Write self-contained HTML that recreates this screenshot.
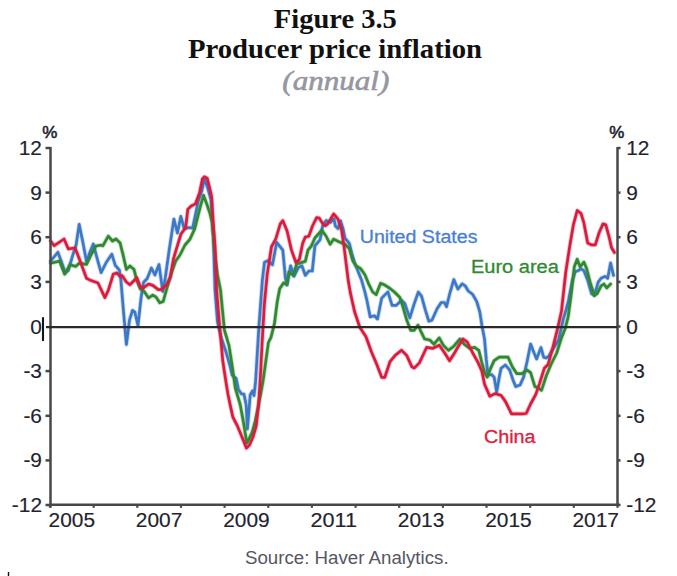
<!DOCTYPE html>
<html><head><meta charset="utf-8"><title>Figure 3.5 Producer price inflation</title>
<style>html,body{margin:0;padding:0;background:#fff;}body{width:677px;height:576px;overflow:hidden;}svg{display:block;}</style>
</head><body>
<svg width="677" height="576" viewBox="0 0 677 576">
<g font-family="'Liberation Serif', serif" font-weight="bold" fill="#111" text-anchor="middle">
<text x="335.3" y="27.9" font-size="28" textLength="123" lengthAdjust="spacingAndGlyphs">Figure 3.5</text>
<text x="335" y="57.9" font-size="28" textLength="294" lengthAdjust="spacingAndGlyphs">Producer price inflation</text>
<text x="335.8" y="90.2" font-size="26.5" font-style="italic" font-weight="normal" fill="#9597a0" stroke="#9597a0" stroke-width="0.6" textLength="107" lengthAdjust="spacingAndGlyphs">(annual)</text>
</g>
<g fill="none" stroke-linejoin="round" stroke-linecap="round">
<polyline stroke="#3c78c8" stroke-width="4.4" stroke-opacity="0.3" points="50.6,261.0 57.9,252.3 61.5,262.0 65.2,272.8 68.3,270.5 73.0,254.4 76.1,245.0 79.2,224.4 83.0,243.0 86.5,261.5 90.0,252.0 93.3,244.0 97.0,258.0 101.1,272.6 106.2,262.5 111.8,254.2 115.3,265.3 119.4,270.1 120.9,280.0 123.4,310.4 126.4,344.5 129.5,320.1 132.5,310.4 134.9,312.2 138.0,325.6 141.0,298.2 143.5,282.5 147.2,278.5 151.4,268.0 154.9,275.0 159.0,264.6 162.8,291.5 165.3,277.8 169.4,248.6 173.9,219.2 177.4,233.0 180.8,216.4 184.3,228.9 189.2,227.5 192.6,228.2 195.4,215.0 198.2,201.1 201.7,191.4 204.4,178.9 207.9,188.6 211.0,200.0 213.3,235.0 215.0,290.0 217.5,322.0 221.0,337.0 226.0,352.0 230.0,366.0 232.2,375.3 236.1,378.4 238.4,389.4 241.6,394.0 243.9,394.0 246.2,405.0 247.4,429.0 248.6,415.0 250.2,395.0 252.5,391.0 254.0,395.6 255.6,381.6 258.9,326.9 262.4,280.0 264.5,262.3 268.0,260.6 272.4,264.9 276.7,242.3 282.8,250.1 285.4,277.9 287.1,284.9 290.6,265.8 294.1,276.2 298.4,267.5 301.9,265.8 305.3,275.3 308.8,271.0 312.3,271.0 314.9,245.8 320.1,239.7 322.7,225.8 326.2,220.6 330.5,222.4 334.0,218.9 335.4,226.0 338.0,228.6 340.6,220.8 343.2,229.5 345.0,238.2 349.3,243.4 351.9,253.8 354.5,262.5 358.0,271.2 361.5,279.9 364.9,292.0 367.1,301.2 370.2,316.9 374.4,315.8 377.5,319.0 381.7,298.1 387.9,291.9 392.1,305.4 396.2,305.4 401.5,300.2 404.6,303.3 409.8,317.9 414.0,304.4 418.3,292.1 421.5,296.2 425.6,310.8 428.8,321.2 431.9,320.2 437.1,308.8 441.2,302.5 444.4,302.5 446.5,306.7 449.6,294.2 453.8,279.6 457.9,289.0 462.1,283.8 465.2,285.8 468.3,291.0 472.5,294.2 476.7,301.5 479.8,311.9 481.9,325.4 484.5,338.9 486.3,359.7 488.0,375.3 491.5,374.5 494.1,377.1 496.7,391.8 499.3,377.1 501.0,368.4 505.4,365.0 509.7,370.1 513.2,380.6 515.8,386.6 520.1,384.9 523.6,377.1 527.1,361.5 530.6,344.1 534.0,352.8 536.6,358.9 541.0,347.6 543.6,357.1 546.2,358.0 548.8,356.2 552.9,349.2 558.6,339.7 563.4,318.6 566.3,309.1 568.6,300.0 572.4,280.2 575.3,271.6 578.1,270.7 581.0,268.8 583.9,270.7 587.7,280.2 591.5,293.6 594.4,295.5 598.2,282.1 601.1,278.3 604.9,276.4 607.7,278.3 610.6,263.0 613.5,275.4"/>
<polyline stroke="#3c78c8" stroke-width="2.7" points="50.6,261.0 57.9,252.3 61.5,262.0 65.2,272.8 68.3,270.5 73.0,254.4 76.1,245.0 79.2,224.4 83.0,243.0 86.5,261.5 90.0,252.0 93.3,244.0 97.0,258.0 101.1,272.6 106.2,262.5 111.8,254.2 115.3,265.3 119.4,270.1 120.9,280.0 123.4,310.4 126.4,344.5 129.5,320.1 132.5,310.4 134.9,312.2 138.0,325.6 141.0,298.2 143.5,282.5 147.2,278.5 151.4,268.0 154.9,275.0 159.0,264.6 162.8,291.5 165.3,277.8 169.4,248.6 173.9,219.2 177.4,233.0 180.8,216.4 184.3,228.9 189.2,227.5 192.6,228.2 195.4,215.0 198.2,201.1 201.7,191.4 204.4,178.9 207.9,188.6 211.0,200.0 213.3,235.0 215.0,290.0 217.5,322.0 221.0,337.0 226.0,352.0 230.0,366.0 232.2,375.3 236.1,378.4 238.4,389.4 241.6,394.0 243.9,394.0 246.2,405.0 247.4,429.0 248.6,415.0 250.2,395.0 252.5,391.0 254.0,395.6 255.6,381.6 258.9,326.9 262.4,280.0 264.5,262.3 268.0,260.6 272.4,264.9 276.7,242.3 282.8,250.1 285.4,277.9 287.1,284.9 290.6,265.8 294.1,276.2 298.4,267.5 301.9,265.8 305.3,275.3 308.8,271.0 312.3,271.0 314.9,245.8 320.1,239.7 322.7,225.8 326.2,220.6 330.5,222.4 334.0,218.9 335.4,226.0 338.0,228.6 340.6,220.8 343.2,229.5 345.0,238.2 349.3,243.4 351.9,253.8 354.5,262.5 358.0,271.2 361.5,279.9 364.9,292.0 367.1,301.2 370.2,316.9 374.4,315.8 377.5,319.0 381.7,298.1 387.9,291.9 392.1,305.4 396.2,305.4 401.5,300.2 404.6,303.3 409.8,317.9 414.0,304.4 418.3,292.1 421.5,296.2 425.6,310.8 428.8,321.2 431.9,320.2 437.1,308.8 441.2,302.5 444.4,302.5 446.5,306.7 449.6,294.2 453.8,279.6 457.9,289.0 462.1,283.8 465.2,285.8 468.3,291.0 472.5,294.2 476.7,301.5 479.8,311.9 481.9,325.4 484.5,338.9 486.3,359.7 488.0,375.3 491.5,374.5 494.1,377.1 496.7,391.8 499.3,377.1 501.0,368.4 505.4,365.0 509.7,370.1 513.2,380.6 515.8,386.6 520.1,384.9 523.6,377.1 527.1,361.5 530.6,344.1 534.0,352.8 536.6,358.9 541.0,347.6 543.6,357.1 546.2,358.0 548.8,356.2 552.9,349.2 558.6,339.7 563.4,318.6 566.3,309.1 568.6,300.0 572.4,280.2 575.3,271.6 578.1,270.7 581.0,268.8 583.9,270.7 587.7,280.2 591.5,293.6 594.4,295.5 598.2,282.1 601.1,278.3 604.9,276.4 607.7,278.3 610.6,263.0 613.5,275.4"/>
<polyline stroke="#2f8a2f" stroke-width="4.4" stroke-opacity="0.3" points="50.6,263.2 59.5,261.1 64.7,274.2 69.9,264.8 75.6,266.4 79.2,263.2 86.5,264.3 91.8,253.3 95.9,246.0 101.1,245.2 102.8,245.8 108.3,236.1 112.5,241.0 116.0,238.9 120.1,243.0 122.9,254.2 126.4,269.4 129.9,266.0 134.0,269.4 136.8,280.6 140.3,288.9 144.4,291.7 148.6,297.9 152.8,295.1 156.2,297.2 159.7,302.8 163.2,301.4 166.7,288.9 172.2,270.8 175.7,261.1 180.0,254.9 185.0,245.0 189.9,239.3 194.7,228.9 200.3,206.7 203.6,195.4 207.2,205.3 210.0,213.6 212.0,222.0 214.5,250.0 217.5,275.0 220.5,290.0 224.4,330.0 229.0,345.6 232.2,366.0 235.3,388.0 240.3,405.0 243.8,424.2 245.8,436.7 246.9,442.9 249.0,438.8 252.1,432.5 255.2,421.0 258.3,406.5 260.5,395.0 263.2,380.0 268.4,342.5 271.0,337.3 274.5,323.4 277.1,302.6 279.7,288.7 283.5,283.0 286.7,284.5 288.9,272.0 293.2,275.3 296.7,264.0 305.3,261.4 308.0,250.1 311.4,245.8 314.9,238.0 321.8,230.2 326.0,236.0 330.2,244.3 333.7,239.1 338.9,241.7 345.0,244.3 349.3,248.6 352.8,260.8 356.2,266.0 360.6,268.6 364.9,274.7 368.4,283.3 372.7,292.0 376.2,294.6 380.6,283.3 384.9,285.1 390.1,288.5 394.4,292.0 399.7,297.2 402.5,305.4 406.7,320.0 410.8,330.4 414.0,330.4 418.1,325.2 421.5,332.7 424.6,339.0 429.8,340.0 434.0,344.2 439.2,337.9 443.3,345.2 448.5,350.4 453.8,346.2 460.0,339.0 464.2,344.2 469.4,348.3 474.6,347.3 478.8,350.4 481.9,362.9 485.0,373.3 487.2,377.1 490.6,368.4 494.1,360.6 499.3,357.1 504.5,357.1 508.0,357.1 512.3,366.7 516.7,373.6 521.9,373.6 527.1,370.1 530.6,372.7 534.9,386.6 538.4,388.0 541.5,390.3 546.2,376.0 551.0,364.5 556.7,353.0 561.5,337.7 565.3,328.2 568.2,316.7 571.5,292.0 574.3,266.8 577.2,259.2 580.1,266.8 583.9,262.1 586.7,268.8 590.6,284.0 594.4,295.5 597.2,293.6 601.1,285.9 603.9,284.0 606.8,287.9 610.6,284.0"/>
<polyline stroke="#2f8a2f" stroke-width="2.7" points="50.6,263.2 59.5,261.1 64.7,274.2 69.9,264.8 75.6,266.4 79.2,263.2 86.5,264.3 91.8,253.3 95.9,246.0 101.1,245.2 102.8,245.8 108.3,236.1 112.5,241.0 116.0,238.9 120.1,243.0 122.9,254.2 126.4,269.4 129.9,266.0 134.0,269.4 136.8,280.6 140.3,288.9 144.4,291.7 148.6,297.9 152.8,295.1 156.2,297.2 159.7,302.8 163.2,301.4 166.7,288.9 172.2,270.8 175.7,261.1 180.0,254.9 185.0,245.0 189.9,239.3 194.7,228.9 200.3,206.7 203.6,195.4 207.2,205.3 210.0,213.6 212.0,222.0 214.5,250.0 217.5,275.0 220.5,290.0 224.4,330.0 229.0,345.6 232.2,366.0 235.3,388.0 240.3,405.0 243.8,424.2 245.8,436.7 246.9,442.9 249.0,438.8 252.1,432.5 255.2,421.0 258.3,406.5 260.5,395.0 263.2,380.0 268.4,342.5 271.0,337.3 274.5,323.4 277.1,302.6 279.7,288.7 283.5,283.0 286.7,284.5 288.9,272.0 293.2,275.3 296.7,264.0 305.3,261.4 308.0,250.1 311.4,245.8 314.9,238.0 321.8,230.2 326.0,236.0 330.2,244.3 333.7,239.1 338.9,241.7 345.0,244.3 349.3,248.6 352.8,260.8 356.2,266.0 360.6,268.6 364.9,274.7 368.4,283.3 372.7,292.0 376.2,294.6 380.6,283.3 384.9,285.1 390.1,288.5 394.4,292.0 399.7,297.2 402.5,305.4 406.7,320.0 410.8,330.4 414.0,330.4 418.1,325.2 421.5,332.7 424.6,339.0 429.8,340.0 434.0,344.2 439.2,337.9 443.3,345.2 448.5,350.4 453.8,346.2 460.0,339.0 464.2,344.2 469.4,348.3 474.6,347.3 478.8,350.4 481.9,362.9 485.0,373.3 487.2,377.1 490.6,368.4 494.1,360.6 499.3,357.1 504.5,357.1 508.0,357.1 512.3,366.7 516.7,373.6 521.9,373.6 527.1,370.1 530.6,372.7 534.9,386.6 538.4,388.0 541.5,390.3 546.2,376.0 551.0,364.5 556.7,353.0 561.5,337.7 565.3,328.2 568.2,316.7 571.5,292.0 574.3,266.8 577.2,259.2 580.1,266.8 583.9,262.1 586.7,268.8 590.6,284.0 594.4,295.5 597.2,293.6 601.1,285.9 603.9,284.0 606.8,287.9 610.6,284.0"/>
<polyline stroke="#dc1a3c" stroke-width="4.4" stroke-opacity="0.3" points="50.6,241.0 54.2,245.7 64.1,239.0 68.3,248.9 75.1,248.0 79.2,258.5 86.5,278.3 89.7,279.9 98.0,283.0 104.9,297.6 108.3,290.3 113.2,274.3 116.7,272.9 120.1,276.4 122.2,275.7 126.4,282.0 129.9,284.7 136.8,277.8 140.3,286.8 143.0,288.2 148.6,284.0 152.8,285.4 158.3,289.6 161.1,289.6 166.7,284.7 170.1,277.8 173.6,258.3 177.8,244.4 181.0,234.0 185.7,227.5 187.8,209.4 191.2,206.0 195.4,203.9 199.6,192.8 202.4,178.9 204.4,176.8 207.2,178.2 210.0,189.3 211.7,197.0 213.0,219.7 215.1,247.5 216.6,290.0 219.7,327.5 222.8,361.0 225.9,381.6 228.1,395.0 231.2,409.6 232.8,416.9 237.5,426.2 242.7,438.8 246.4,448.1 249.5,445.0 253.1,436.7 256.2,426.2 258.5,405.0 260.2,380.0 262.0,345.0 264.3,305.0 267.2,274.4 271.5,246.7 275.8,238.9 280.2,224.1 282.8,220.6 287.1,231.0 291.5,250.1 295.8,262.3 299.3,259.7 302.7,243.2 305.3,237.1 308.8,236.3 312.5,226.0 316.6,217.7 319.3,218.2 323.2,224.4 325.5,225.7 327.7,223.9 333.7,213.9 338.0,219.1 341.5,229.5 344.1,246.9 345.8,260.8 348.4,281.6 350.4,292.9 354.6,311.7 359.8,327.3 366.0,336.7 371.2,351.2 376.5,363.8 381.7,377.3 384.8,377.3 390.0,361.7 395.2,355.4 401.5,350.2 406.7,355.4 411.9,366.9 414.2,368.1 419.4,362.9 426.7,347.3 432.9,348.3 439.2,345.2 444.4,352.5 449.6,360.8 454.8,352.5 459.0,345.2 463.1,339.0 467.3,342.1 472.5,352.5 477.7,361.9 481.9,371.2 484.5,384.0 489.8,396.2 495.0,393.6 501.0,395.3 505.4,401.4 511.5,413.8 516.7,413.8 521.9,413.8 526.2,413.5 530.6,404.0 535.8,394.4 539.5,383.6 544.3,368.3 548.1,364.5 552.9,347.3 557.7,328.2 561.5,311.0 565.7,272.6 569.5,247.7 573.4,224.8 577.2,210.5 581.0,213.4 583.9,222.9 587.7,243.0 591.5,244.9 595.3,244.9 599.2,232.5 603.0,223.9 605.8,224.8 608.7,235.3 611.6,247.7 614.4,252.5"/>
<polyline stroke="#dc1a3c" stroke-width="2.7" points="50.6,241.0 54.2,245.7 64.1,239.0 68.3,248.9 75.1,248.0 79.2,258.5 86.5,278.3 89.7,279.9 98.0,283.0 104.9,297.6 108.3,290.3 113.2,274.3 116.7,272.9 120.1,276.4 122.2,275.7 126.4,282.0 129.9,284.7 136.8,277.8 140.3,286.8 143.0,288.2 148.6,284.0 152.8,285.4 158.3,289.6 161.1,289.6 166.7,284.7 170.1,277.8 173.6,258.3 177.8,244.4 181.0,234.0 185.7,227.5 187.8,209.4 191.2,206.0 195.4,203.9 199.6,192.8 202.4,178.9 204.4,176.8 207.2,178.2 210.0,189.3 211.7,197.0 213.0,219.7 215.1,247.5 216.6,290.0 219.7,327.5 222.8,361.0 225.9,381.6 228.1,395.0 231.2,409.6 232.8,416.9 237.5,426.2 242.7,438.8 246.4,448.1 249.5,445.0 253.1,436.7 256.2,426.2 258.5,405.0 260.2,380.0 262.0,345.0 264.3,305.0 267.2,274.4 271.5,246.7 275.8,238.9 280.2,224.1 282.8,220.6 287.1,231.0 291.5,250.1 295.8,262.3 299.3,259.7 302.7,243.2 305.3,237.1 308.8,236.3 312.5,226.0 316.6,217.7 319.3,218.2 323.2,224.4 325.5,225.7 327.7,223.9 333.7,213.9 338.0,219.1 341.5,229.5 344.1,246.9 345.8,260.8 348.4,281.6 350.4,292.9 354.6,311.7 359.8,327.3 366.0,336.7 371.2,351.2 376.5,363.8 381.7,377.3 384.8,377.3 390.0,361.7 395.2,355.4 401.5,350.2 406.7,355.4 411.9,366.9 414.2,368.1 419.4,362.9 426.7,347.3 432.9,348.3 439.2,345.2 444.4,352.5 449.6,360.8 454.8,352.5 459.0,345.2 463.1,339.0 467.3,342.1 472.5,352.5 477.7,361.9 481.9,371.2 484.5,384.0 489.8,396.2 495.0,393.6 501.0,395.3 505.4,401.4 511.5,413.8 516.7,413.8 521.9,413.8 526.2,413.5 530.6,404.0 535.8,394.4 539.5,383.6 544.3,368.3 548.1,364.5 552.9,347.3 557.7,328.2 561.5,311.0 565.7,272.6 569.5,247.7 573.4,224.8 577.2,210.5 581.0,213.4 583.9,222.9 587.7,243.0 591.5,244.9 595.3,244.9 599.2,232.5 603.0,223.9 605.8,224.8 608.7,235.3 611.6,247.7 614.4,252.5"/>
</g>
<g stroke="#474747" stroke-width="2.5" fill="none">
<line x1="50.5" y1="147" x2="50.5" y2="507.5"/>
<line x1="617.5" y1="147" x2="617.5" y2="506"/>
<line x1="49.5" y1="504.8" x2="619.5" y2="504.8"/>
<line x1="46" y1="327.2" x2="617" y2="327.2" stroke="#2a2a2a" stroke-width="2.3"/>
<line x1="45.5" y1="148.0" x2="50.5" y2="148.0"/>
<line x1="617.5" y1="148.0" x2="620.5" y2="148.0"/>
<line x1="45.5" y1="192.6" x2="50.5" y2="192.6"/>
<line x1="617.5" y1="192.6" x2="620.5" y2="192.6"/>
<line x1="45.5" y1="237.2" x2="50.5" y2="237.2"/>
<line x1="617.5" y1="237.2" x2="620.5" y2="237.2"/>
<line x1="45.5" y1="281.9" x2="50.5" y2="281.9"/>
<line x1="617.5" y1="281.9" x2="620.5" y2="281.9"/>
<line x1="617.5" y1="326.5" x2="620.5" y2="326.5"/>
<line x1="45.5" y1="371.1" x2="50.5" y2="371.1"/>
<line x1="617.5" y1="371.1" x2="620.5" y2="371.1"/>
<line x1="45.5" y1="415.8" x2="50.5" y2="415.8"/>
<line x1="617.5" y1="415.8" x2="620.5" y2="415.8"/>
<line x1="45.5" y1="460.4" x2="50.5" y2="460.4"/>
<line x1="617.5" y1="460.4" x2="620.5" y2="460.4"/>
<line x1="45.5" y1="505.0" x2="50.5" y2="505.0"/>
<line x1="617.5" y1="505.0" x2="620.5" y2="505.0"/>
<line x1="50.0" y1="505" x2="50.0" y2="507.8" stroke-width="2.2"/>
<line x1="93.7" y1="505" x2="93.7" y2="507.8" stroke-width="2.2"/>
<line x1="137.3" y1="505" x2="137.3" y2="507.8" stroke-width="2.2"/>
<line x1="181.0" y1="505" x2="181.0" y2="507.8" stroke-width="2.2"/>
<line x1="224.6" y1="505" x2="224.6" y2="507.8" stroke-width="2.2"/>
<line x1="268.3" y1="505" x2="268.3" y2="507.8" stroke-width="2.2"/>
<line x1="311.9" y1="505" x2="311.9" y2="507.8" stroke-width="2.2"/>
<line x1="355.6" y1="505" x2="355.6" y2="507.8" stroke-width="2.2"/>
<line x1="399.2" y1="505" x2="399.2" y2="507.8" stroke-width="2.2"/>
<line x1="442.9" y1="505" x2="442.9" y2="507.8" stroke-width="2.2"/>
<line x1="486.5" y1="505" x2="486.5" y2="507.8" stroke-width="2.2"/>
<line x1="530.2" y1="505" x2="530.2" y2="507.8" stroke-width="2.2"/>
<line x1="573.8" y1="505" x2="573.8" y2="507.8" stroke-width="2.2"/>
<line x1="617.5" y1="505" x2="617.5" y2="507.8" stroke-width="2.2"/>
</g>
<line x1="43" y1="318" x2="43" y2="340.3" stroke="#151515" stroke-width="2.1" stroke-linecap="round"/>
<line x1="8.5" y1="572" x2="8.5" y2="576" stroke="#111" stroke-width="1.4"/>
<g font-family="'Liberation Sans', Arial, sans-serif" fill="#22222e" stroke="#22222e" stroke-width="0.15" lengthAdjust="spacingAndGlyphs">
<text x="42" y="155.0" font-size="19.8" text-anchor="end" textLength="23.23" lengthAdjust="spacingAndGlyphs">12</text>
<text x="626.2" y="155.0" font-size="19.8" textLength="23.23" lengthAdjust="spacingAndGlyphs">12</text>
<text x="42" y="199.6" font-size="19.8" text-anchor="end" textLength="11.61" lengthAdjust="spacingAndGlyphs">9</text>
<text x="626.2" y="199.6" font-size="19.8" textLength="11.61" lengthAdjust="spacingAndGlyphs">9</text>
<text x="42" y="244.2" font-size="19.8" text-anchor="end" textLength="11.61" lengthAdjust="spacingAndGlyphs">6</text>
<text x="626.2" y="244.2" font-size="19.8" textLength="11.61" lengthAdjust="spacingAndGlyphs">6</text>
<text x="42" y="288.9" font-size="19.8" text-anchor="end" textLength="11.61" lengthAdjust="spacingAndGlyphs">3</text>
<text x="626.2" y="288.9" font-size="19.8" textLength="11.61" lengthAdjust="spacingAndGlyphs">3</text>
<text x="42" y="333.5" font-size="19.8" text-anchor="end" textLength="11.61" lengthAdjust="spacingAndGlyphs">0</text>
<text x="626.2" y="333.5" font-size="19.8" textLength="11.61" lengthAdjust="spacingAndGlyphs">0</text>
<text x="42" y="378.1" font-size="19.8" text-anchor="end" textLength="18.57" lengthAdjust="spacingAndGlyphs">-3</text>
<text x="626.2" y="378.1" font-size="19.8" textLength="18.57" lengthAdjust="spacingAndGlyphs">-3</text>
<text x="42" y="422.8" font-size="19.8" text-anchor="end" textLength="18.57" lengthAdjust="spacingAndGlyphs">-6</text>
<text x="626.2" y="422.8" font-size="19.8" textLength="18.57" lengthAdjust="spacingAndGlyphs">-6</text>
<text x="42" y="467.4" font-size="19.8" text-anchor="end" textLength="18.57" lengthAdjust="spacingAndGlyphs">-9</text>
<text x="626.2" y="467.4" font-size="19.8" textLength="18.57" lengthAdjust="spacingAndGlyphs">-9</text>
<text x="42" y="512.0" font-size="19.8" text-anchor="end" textLength="30.18" lengthAdjust="spacingAndGlyphs">-12</text>
<text x="626.2" y="512.0" font-size="19.8" textLength="30.18" lengthAdjust="spacingAndGlyphs">-12</text>
<text x="71.8" y="526.6" text-anchor="middle" font-size="19.8" textLength="46.46" lengthAdjust="spacingAndGlyphs">2005</text>
<text x="159.1" y="526.6" text-anchor="middle" font-size="19.8" textLength="46.46" lengthAdjust="spacingAndGlyphs">2007</text>
<text x="246.4" y="526.6" text-anchor="middle" font-size="19.8" textLength="46.46" lengthAdjust="spacingAndGlyphs">2009</text>
<text x="333.8" y="526.6" text-anchor="middle" font-size="19.8" textLength="46.46" lengthAdjust="spacingAndGlyphs">2011</text>
<text x="421.1" y="526.6" text-anchor="middle" font-size="19.8" textLength="46.46" lengthAdjust="spacingAndGlyphs">2013</text>
<text x="508.4" y="526.6" text-anchor="middle" font-size="19.8" textLength="46.46" lengthAdjust="spacingAndGlyphs">2015</text>
<text x="595.7" y="526.6" text-anchor="middle" font-size="19.8" textLength="46.46" lengthAdjust="spacingAndGlyphs">2017</text>
<text x="49.9" y="137.6" text-anchor="middle" font-size="17" stroke-width="0.55">%</text>
<text x="616.9" y="137.6" text-anchor="middle" font-size="17" stroke-width="0.55">%</text>
</g>
<g font-family="'Liberation Sans', Arial, sans-serif" font-size="18" stroke-width="0.3" lengthAdjust="spacingAndGlyphs">
<text x="359.75" y="242.6" fill="#4a80d0" stroke="#4a80d0" textLength="117.7" lengthAdjust="spacingAndGlyphs">United States</text>
<text x="470.9" y="273.2" fill="#2f8a2f" stroke="#2f8a2f" textLength="88" lengthAdjust="spacingAndGlyphs">Euro area</text>
<text x="483.9" y="443" fill="#e0203c" stroke="#e0203c" textLength="51.6" lengthAdjust="spacingAndGlyphs">China</text>
</g>
<text x="245" y="564" font-family="'Liberation Sans', Arial, sans-serif" font-size="18.7" fill="#565662">Source: Haver Analytics.</text>
</svg>
</body></html>
